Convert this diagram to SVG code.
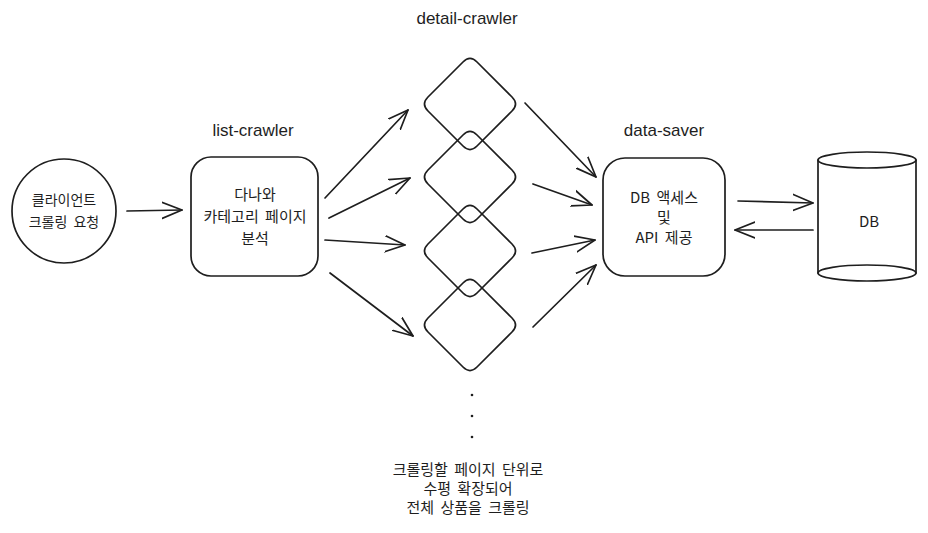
<svg xmlns="http://www.w3.org/2000/svg" width="928" height="533" viewBox="0 0 928 533">
<style>
.s{fill:none;stroke:#1e1e1e;stroke-width:1.7;stroke-linecap:round;stroke-linejoin:round}
.k{font-family:"Noto Sans CJK KR","Liberation Sans",sans-serif;font-size:15px;fill:#1e1e1e;text-anchor:middle;word-spacing:3px}
.c{font-size:14px}
.l{font-family:"Liberation Sans","DejaVu Sans",sans-serif;font-size:17px;fill:#1e1e1e;text-anchor:middle}
</style>
<defs>
<marker id="a" markerUnits="userSpaceOnUse" markerWidth="30" markerHeight="30" refX="20" refY="10" orient="auto" viewBox="0 0 30 20">
<path d="M0,2 L20,10 L0,18" fill="none" stroke="#1e1e1e" stroke-width="1.7" stroke-linecap="round" stroke-linejoin="round"/>
</marker>
<path id="dm" d="M7,-42 L42,-7 Q49,0 42,7 L7,42 Q0,49 -7,42 L-42,7 Q-49,0 -42,-7 L-7,-42 Q0,-49 7,-42 Z"/>
</defs>
<rect width="928" height="533" fill="#ffffff"/>

<text class="l" x="467" y="24">detail-crawler</text>
<text class="l" x="253" y="136">list-crawler</text>
<text class="l" x="664" y="136">data-saver</text>

<g id="client">
<circle class="s" cx="64" cy="211" r="52"/>
<text class="k c" x="64" y="205">클라이언트</text>
<text class="k c" x="64" y="227">크롤링 요청</text>
</g>

<g id="list-crawler">
<rect class="s" x="191" y="157" width="127" height="119" rx="20"/>
<text class="k" x="255" y="200">다나와</text>
<text class="k" x="255" y="222">카테고리 페이지</text>
<text class="k" x="255" y="244">분석</text>
</g>

<g id="detail-1"><use href="#dm" class="s" transform="translate(470,104)"/></g>
<g id="detail-2"><use href="#dm" class="s" transform="translate(470,177)"/></g>
<g id="detail-3"><use href="#dm" class="s" transform="translate(470,251)"/></g>
<g id="detail-4"><use href="#dm" class="s" transform="translate(470,325)"/></g>

<g id="data-saver">
<rect class="s" x="603" y="158" width="122" height="118" rx="22"/>
<text class="k" x="664" y="203">DB 액세스</text>
<text class="k" x="664" y="223">및</text>
<text class="k" x="664" y="243">API 제공</text>
</g>

<g id="db">
<path class="s" d="M818,160 L818,273 M916,160 L916,273"/>
<ellipse class="s" cx="867" cy="160" rx="49" ry="8"/>
<ellipse class="s" cx="867" cy="273" rx="49" ry="8"/>
<text class="k" x="869" y="227">DB</text>
</g>

<g id="dots" fill="#1e1e1e">
<circle cx="472" cy="395" r="1.3"/>
<circle cx="472" cy="416" r="1.3"/>
<circle cx="472" cy="437" r="1.3"/>
</g>

<g id="note">
<text class="k" x="468" y="475">크롤링할 페이지 단위로</text>
<text class="k" x="468" y="494">수평 확장되어</text>
<text class="k" x="468" y="513">전체 상품을 크롤링</text>
</g>

<g id="connectors" class="s" marker-end="url(#a)">
<path d="M127,211 L182,210"/>
<path d="M325,198 L408,110"/>
<path d="M329,218 L410,178"/>
<path d="M325,240 L405,245"/>
<path d="M330,273 L413,336"/>
<path d="M525,103 L596,177"/>
<path d="M533,184 L592,205"/>
<path d="M532,253 L595,240"/>
<path d="M533,327 L596,265"/>
<path d="M738,201 L813,203"/>
<path d="M813,230 L735,230"/>
</g>
</svg>
